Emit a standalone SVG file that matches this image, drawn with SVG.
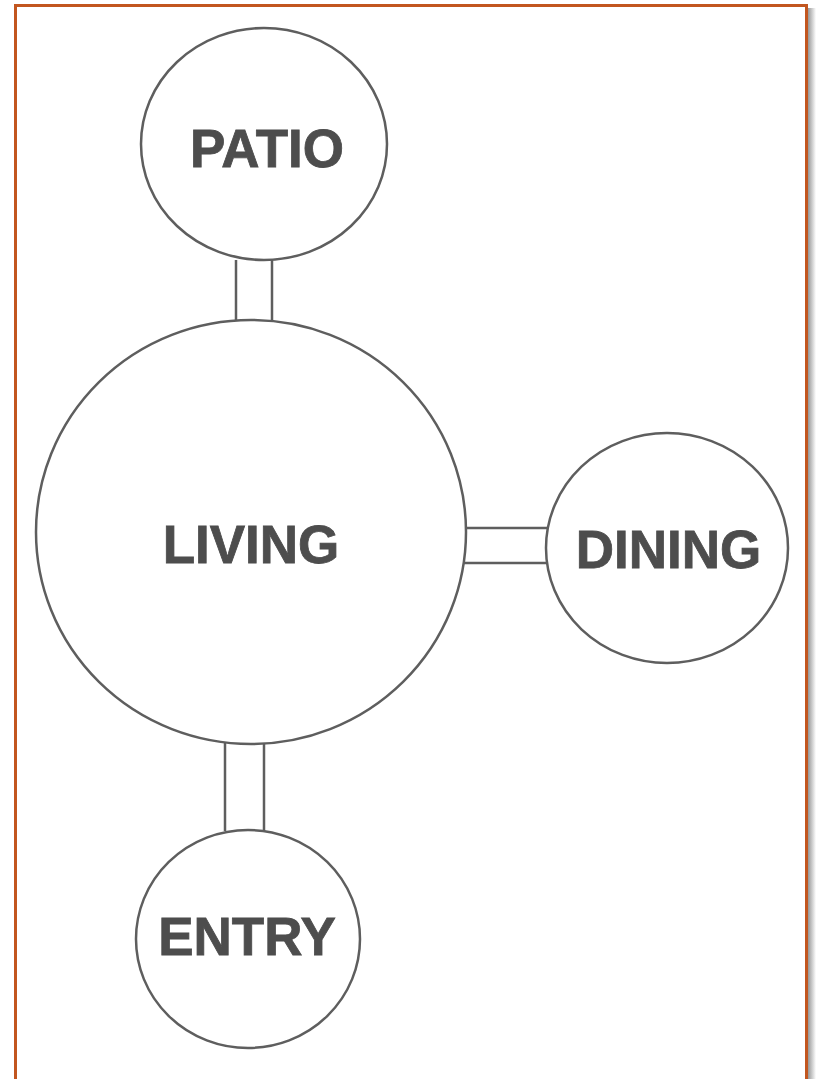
<svg xmlns="http://www.w3.org/2000/svg" width="817" height="1079" viewBox="0 0 817 1079">
<defs>
<linearGradient id="sh" x1="0" y1="0" x2="1" y2="0">
<stop offset="0" stop-color="#8a8a8a"/>
<stop offset="1" stop-color="#ffffff"/>
</linearGradient>
<style>
.room{fill:#ffffff;stroke:#5e5e5e;stroke-width:2.5}
.lbl{font-family:"Liberation Sans",Arial,sans-serif;font-weight:bold;font-size:53px;fill:#4d4d4d;stroke:#4d4d4d;stroke-width:0.8;text-anchor:middle}
.conn line{stroke:#5e5e5e;stroke-width:2.5}
</style>
</defs>
<rect x="0" y="0" width="817" height="1079" fill="#ffffff"/>
<rect x="807" y="8" width="9" height="1071" fill="url(#sh)"/>
<rect x="15.5" y="5.5" width="791" height="1090" fill="#ffffff" stroke="#c2561f" stroke-width="3"/>
<g id="connectors" class="conn">
<line x1="236" y1="260" x2="236" y2="322"/>
<line x1="272" y1="260" x2="272" y2="322"/>
<line x1="463" y1="528" x2="548" y2="528"/>
<line x1="463" y1="563" x2="548" y2="563"/>
<line x1="225" y1="743" x2="225" y2="831"/>
<line x1="264" y1="743" x2="264" y2="831"/>
</g>
<g id="patio">
<ellipse class="room" cx="264" cy="144" rx="123" ry="116"/>
<text class="lbl" x="267" y="167">PATIO</text>
</g>
<g id="living">
<ellipse class="room" cx="251" cy="532" rx="215" ry="212"/>
<text class="lbl" x="251" y="563">LIVING</text>
</g>
<g id="dining">
<ellipse class="room" cx="667" cy="548" rx="121" ry="115"/>
<text class="lbl" x="668.5" y="568">DINING</text>
</g>
<g id="entry">
<ellipse class="room" cx="248" cy="939" rx="112" ry="109"/>
<text class="lbl" x="247" y="955">ENTRY</text>
</g>
</svg>
